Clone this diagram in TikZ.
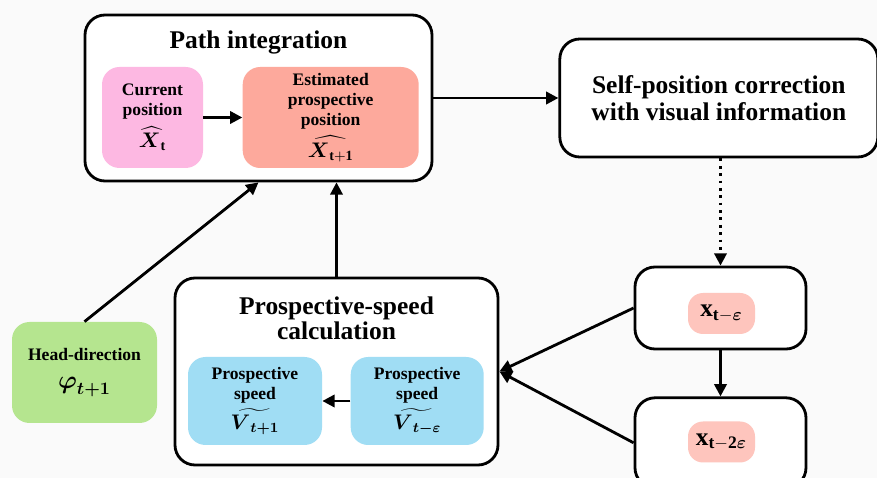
\documentclass[tikz,border=0pt]{standalone}
\usepackage{amsmath}
\usepackage{xcolor}
\usepackage{fontspec}
\setmainfont{Liberation Serif}
\usetikzlibrary{arrows.meta,positioning}

\definecolor{pinkbox}{HTML}{FDB8E2}
\definecolor{salmonbox}{HTML}{FDA99C}
\definecolor{bluebox}{HTML}{A0DDF4}
\definecolor{greenbox}{HTML}{B5E58F}
\definecolor{xbox}{HTML}{FEC5BD}
\definecolor{bgcol}{HTML}{FAFAFA}

\begin{document}
\begin{tikzpicture}[
    block/.style={rectangle, draw, line width=1.6pt, rounded corners=0.4cm, fill=white, inner sep=0pt},
    inner/.style={rectangle, rounded corners=0.35cm, align=center, inner sep=0pt, font=\fontsize{10}{11.3}\selectfont\bfseries},
    title/.style={align=center, font=\fontsize{14.5}{14.2}\selectfont\bfseries},
    arrow/.style={-{Triangle[length=7pt,width=7pt]}, line width=1.6pt}
]

% Canvas
\fill[bgcol] (0,0) rectangle (17.54,-9.56);
\useasboundingbox (0,0) rectangle (17.54,-9.56);

% Blocks
\node[block, minimum width=6.94cm, minimum height=3.32cm,
      label={[title, anchor=center, yshift=-0.58cm]north:Path integration}] (pint) at (5.17,-1.96) {};
\node[block, minimum width=6.36cm, minimum height=2.36cm, right=2.5cm of pint,
      title, font=\fontsize{14.5}{15.3}\selectfont\bfseries] (selfpos) {Self-position correction\\with visual information};
\node[block, minimum width=6.46cm, minimum height=3.74cm,
      label={[title, anchor=center, yshift=-0.84cm]north:Prospective-speed\\calculation}] (psc) at (6.73,-7.43) {};
\node[block, minimum width=3.42cm, minimum height=1.64cm] (xeps) at (14.41,-6.16) {};
\node[block, minimum width=3.42cm, minimum height=1.8cm, below=0.92cm of xeps] (xtwoeps) {};

% Inner boxes
\node[inner, fill=pinkbox, minimum width=2.02cm, minimum height=2.02cm] (curpos) at (3.05,-2.35)
    {Current\\position\\[3pt]{\large$\widehat{\boldsymbol{X}_{\mathbf{t}}}$}};
\node[inner, fill=salmonbox, minimum width=3.52cm, minimum height=2.02cm, right=0.78cm of curpos] (estpos)
    {Estimated\\prospective\\position\\[3pt]{\large$\widehat{\boldsymbol{X}_{\mathbf{t+1}}}$}};
\node[inner, fill=bluebox, minimum width=2.68cm, minimum height=1.76cm] (vnext) at (5.10,-8.02)
    {Prospective\\speed\\[2pt]{\large$\widetilde{\boldsymbol{V}_{\boldsymbol{t+1}}}$}};
\node[inner, fill=bluebox, minimum width=2.66cm, minimum height=1.76cm, right=0.56cm of vnext] (veps)
    {Prospective\\speed\\[2pt]{\large$\widetilde{\boldsymbol{V}_{\boldsymbol{t-\varepsilon}}}$}};
\node[inner, fill=greenbox, minimum width=2.9cm, minimum height=2.02cm] (head) at (1.69,-7.45)
    {Head-direction\\[5pt]{\Large$\boldsymbol{\varphi}_{\boldsymbol{t+1}}$}};
\node[inner, fill=xbox, rounded corners=0.3cm, minimum width=1.34cm, minimum height=0.82cm] (xepsval) at (14.43,-6.27)
    {\Large$\mathbf{x}_{\mathbf{t}-\boldsymbol{\varepsilon}}$};
\node[inner, fill=xbox, rounded corners=0.3cm, minimum width=1.34cm, minimum height=0.82cm] (xtwoepsval) at (14.43,-8.84)
    {\Large$\mathbf{x}_{\mathbf{t}-\mathbf{2}\boldsymbol{\varepsilon}}$};

% Connections
\draw[arrow] (curpos) -- (estpos);
\draw[arrow] (pint) -- (selfpos);
\draw[arrow, dash pattern=on 1.6pt off 2.6pt] (selfpos.south -| xeps.north) -- (xeps.north);
\draw[arrow] (xeps) -- (xtwoeps);
\draw[arrow] (head.north) -- (pint.south);
\draw[arrow] (psc.north) -- (psc.north |- pint.south);
\draw[arrow] (xeps.west) -- (psc.east);
\draw[arrow] (xtwoeps.west) -- (psc.east);
\draw[arrow] (veps) -- (vnext);

\end{tikzpicture}
\end{document}
